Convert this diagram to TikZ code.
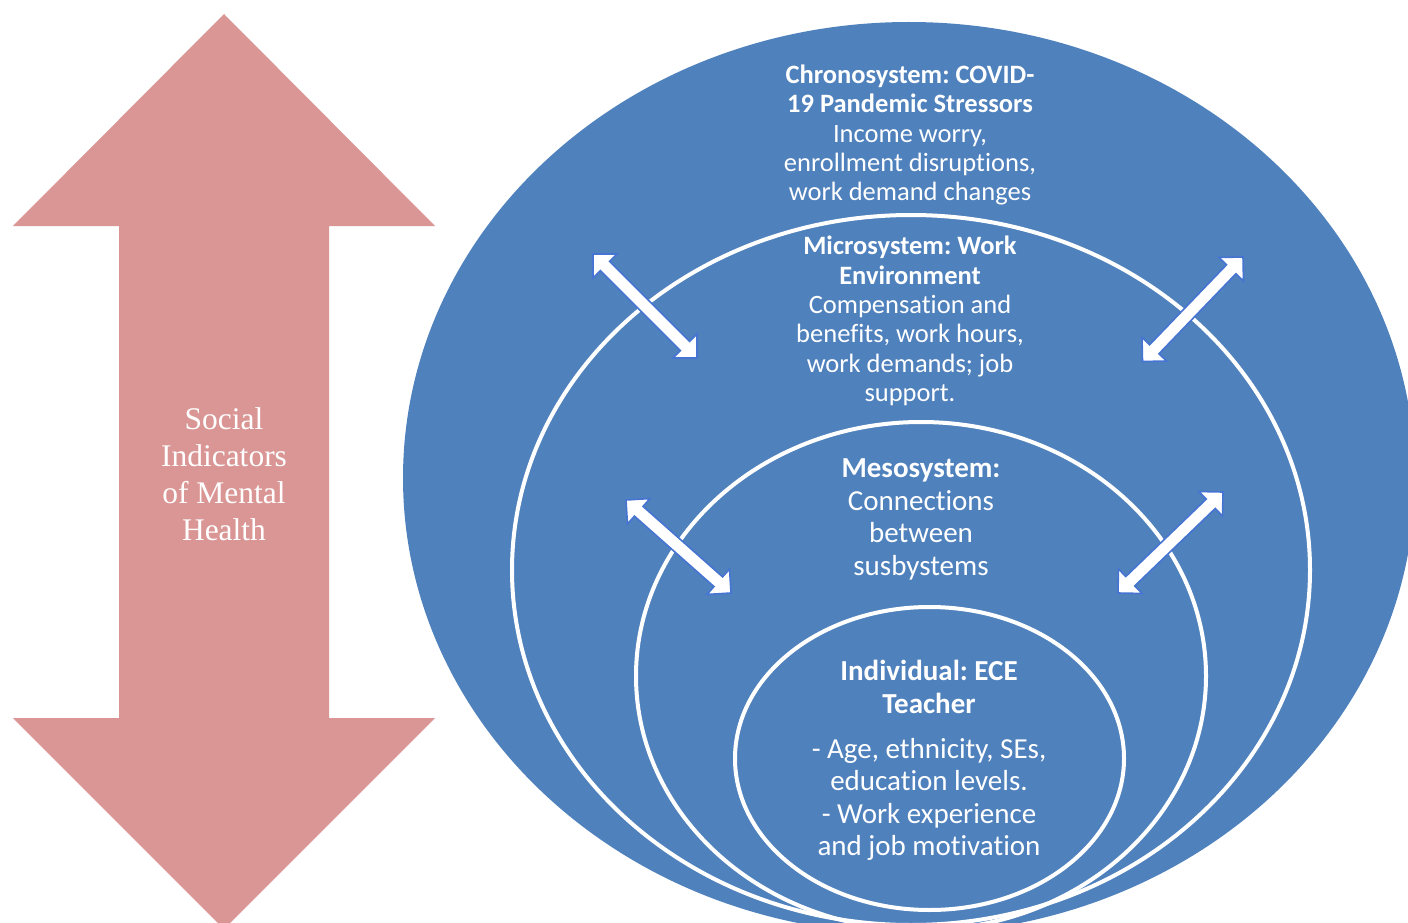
\documentclass[tikz,border=0pt]{standalone}
\usepackage{fontspec}
\setmainfont{Liberation Serif}
\newfontfamily\labelfont[RawFeature=-liga]{Carlito}
\usetikzlibrary{calc,shapes.geometric}

\definecolor{sysblue}{RGB}{79,129,189}
\definecolor{arrowpink}{RGB}{217,150,148}
\definecolor{rimblue}{RGB}{70,116,210}

\tikzset{
  x=1pt, y=-1pt,
  ring/.style={ellipse, draw=white, line width=4pt, inner sep=0pt},
  systext/.style={text=white, align=center, inner sep=0pt,
    font=\labelfont\frenchspacing\fontsize{26.5}{29.3}\selectfont},
  bigtext/.style={text=white, align=center, inner sep=0pt,
    font=\labelfont\frenchspacing\fontsize{29}{32.4}\selectfont},
  linkarrow/.style={fill=white, draw=rimblue, line width=1.6pt, line join=miter},
  sidearrow/.style={fill=arrowpink},
  sidetext/.style={text=white, align=center, inner sep=0pt,
    font=\fontsize{31.5}{37}\selectfont},
}

% two-headed block arrow between two named coordinates
\newcommand\linkbetween[2]{%
  \coordinate (#1h) at ($(#1)!17pt!(#2)$);
  \coordinate (#2h) at ($(#2)!17pt!(#1)$);
  \draw[linkarrow] (#1)
    -- ($(#1h)!17pt!90:(#2)$) -- ($(#1h)!6.5pt!90:(#2)$)
    -- ($(#2h)!6.5pt!-90:(#1)$) -- ($(#2h)!17pt!-90:(#1)$)
    -- (#2)
    -- ($(#2h)!17pt!90:(#1)$) -- ($(#2h)!6.5pt!90:(#1)$)
    -- ($(#1h)!6.5pt!-90:(#2)$) -- ($(#1h)!17pt!-90:(#2)$)
    -- cycle;}

\begin{document}
\begin{tikzpicture}
\useasboundingbox (0,0) rectangle (1408,923);
\clip (0,0) rectangle (1408,923);

% vertical two-headed arrow on the left
\fill[sidearrow] (224,14) -- (435,226) -- (329,226) -- (329,718) -- (435,718)
  -- (224,929) -- (13,718) -- (119,718) -- (119,226) -- (13,226) -- cycle;
\node[sidetext] (social) at (224,474) {Social\\Indicators\\of Mental\\Health};

% nested system ellipses
\node[ellipse, fill=sysblue, inner sep=0pt, minimum width=1012pt, minimum height=912pt] (chrono) at (909,478) {};
\node[ring, minimum width=798pt, minimum height=710pt] (micro) at (911,570) {};
\node[ring, minimum width=570pt, minimum height=508pt] (meso) at (921,676) {};
\node[ring, minimum width=389pt, minimum height=303pt] (indiv) at (929.5,758.5) {};

% arrows linking neighbouring systems
\coordinate (ul1) at (593,254);  \coordinate (ul2) at (697,358);
\coordinate (ur1) at (1243,257); \coordinate (ur2) at (1142.5,361.5);
\coordinate (ll1) at (626,500);  \coordinate (ll2) at (731,593);
\coordinate (lr1) at (1223,492); \coordinate (lr2) at (1118,593);
\linkbetween{ul1}{ul2}
\linkbetween{ur1}{ur2}
\linkbetween{ll1}{ll2}
\linkbetween{lr1}{lr2}

% labels
\node[systext] (chronotext) at (910,135)
  {\textbf{Chronosystem: COVID-}\\\textbf{19 Pandemic Stressors}\\Income worry,\\enrollment disruptions,\\work demand changes};
\node[systext] (microtext) at (910,321)
  {\textbf{Microsystem: Work}\\\textbf{Environment}\\Compensation and\\benefits, work hours,\\work demands; job\\support.};
\node[bigtext] (mesotext) at (921,519.5)
  {\textbf{Mesosystem:}\\Connections\\between\\susbystems};
\node[bigtext] (indivtext) at (929,760.5)
  {\textbf{Individual: ECE}\\\textbf{Teacher}\\[12.6pt]- Age, ethnicity, SEs,\\education levels.\\- Work experience\\and job motivation};
\end{tikzpicture}
\end{document}
